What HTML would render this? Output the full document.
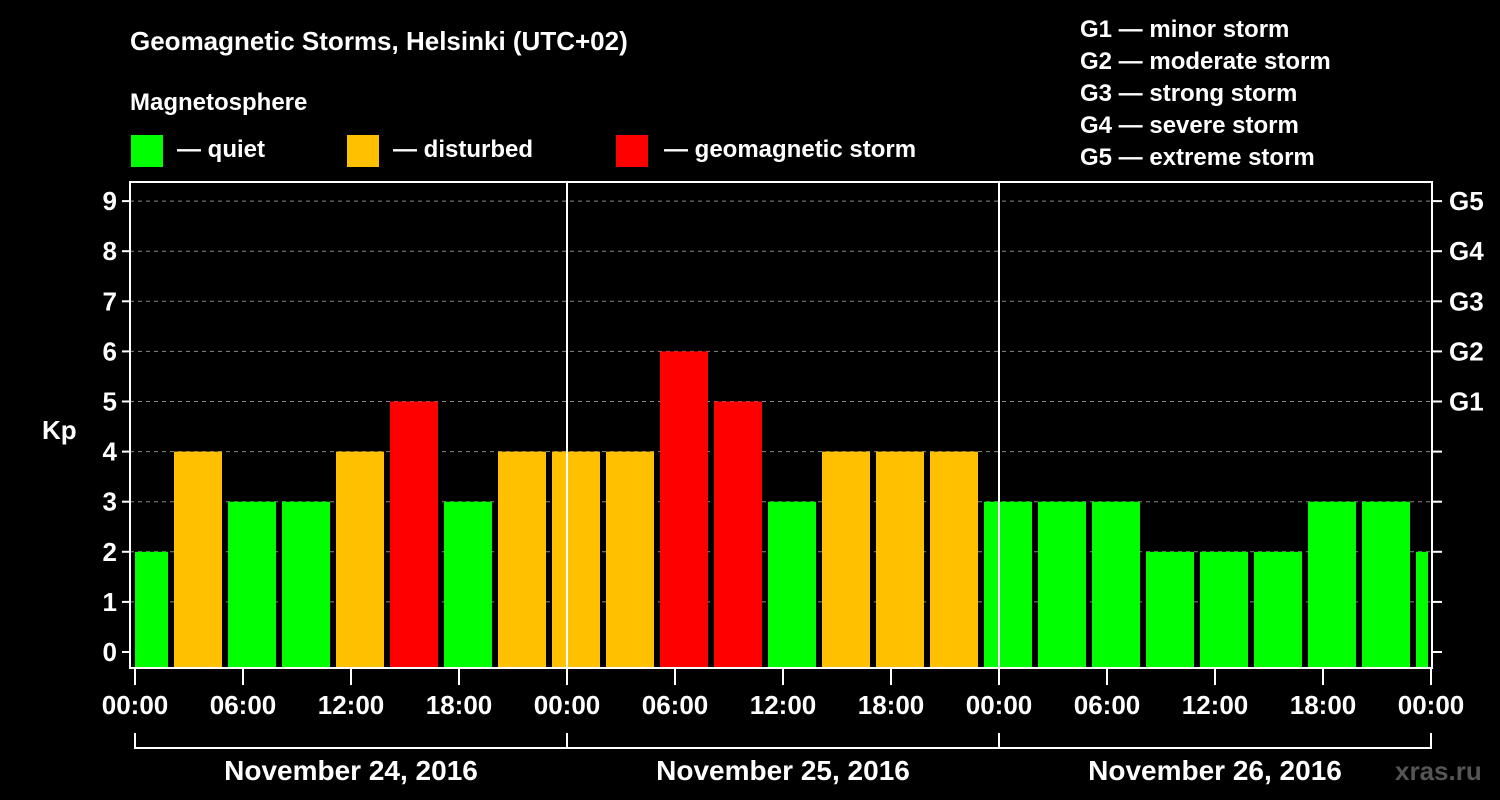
<!DOCTYPE html>
<html><head><meta charset="utf-8"><style>
html,body{margin:0;padding:0;background:#000;}
svg{display:block;font-family:"Liberation Sans",Arial,sans-serif;font-weight:bold;}
</style></head><body>
<svg id="chart" width="1500" height="800" viewBox="0 0 1500 800">
<rect width="1500" height="800" fill="#000"/>
<text x="130" y="50" fill="#fff" font-size="26">Geomagnetic Storms, Helsinki (UTC+02)</text>
<text x="130" y="110" fill="#fff" font-size="24">Magnetosphere</text>
<g><rect x="131" y="135" width="32" height="32" fill="#00ff00"/><text x="177" y="157" fill="#fff" font-size="24">— quiet</text></g>
<g><rect x="347" y="135" width="32" height="32" fill="#ffc000"/><text x="393" y="157" fill="#fff" font-size="24">— disturbed</text></g>
<g><rect x="616" y="135" width="32" height="32" fill="#ff0000"/><text x="664" y="157" fill="#fff" font-size="24">— geomagnetic storm</text></g>
<g fill="#fff" font-size="24">
<text x="1080" y="37">G1 — minor storm</text>
<text x="1080" y="69">G2 — moderate storm</text>
<text x="1080" y="101">G3 — strong storm</text>
<text x="1080" y="133">G4 — severe storm</text>
<text x="1080" y="165">G5 — extreme storm</text>
</g>
<text x="42" y="439" fill="#fff" font-size="26">Kp</text>
<text x="1395" y="780" fill="#555" font-size="26">xras.ru</text>
<g id="grid"></g><g id="bars"></g><g id="axes"></g>
</svg>
<script>
const kpValues=[2,4,3,3,4,5,3,4,4,4,6,5,3,4,4,4,3,3,3,2,2,2,3,3,2];
const yTicks=[0,1,2,3,4,5,6,7,8,9];
const gLabels=["G1","G2","G3","G4","G5"];
const xTickLabels=["00:00","06:00","12:00","18:00","00:00","06:00","12:00","18:00","00:00","06:00","12:00","18:00","00:00"];
const dayLabels=["November 24, 2016","November 25, 2016","November 26, 2016"];
const firstBarHour=-1; // local hour of first 3-hour interval start
const NS="http://www.w3.org/2000/svg";
const X0=135,PXH=18,Y0=652,PXU=50.1,TOP=182,BOT=668,LEFT=130,RIGHT=1432;
const xs=h=>X0+h*PXH, ys=v=>Y0-v*PXU;
function mk(t,a,p){const e=document.createElementNS(NS,t);for(const k in a)e.setAttribute(k,a[k]);p.appendChild(e);return e;}
const grid=document.getElementById('grid'),bars=document.getElementById('bars'),axes=document.getElementById('axes');
yTicks.forEach(v=>{
 if(v>0){const l=mk('line',{x1:LEFT,x2:RIGHT,y1:ys(v),y2:ys(v),stroke:'#888','stroke-width':1,'stroke-dasharray':'4,4'},grid);
 
 }
 const t=mk('line',{x1:122,x2:LEFT,y1:ys(v),y2:ys(v),stroke:'#fff','stroke-width':2},axes);
 
 
 const t2=mk('line',{x1:RIGHT,x2:1442,y1:ys(v),y2:ys(v),stroke:'#fff','stroke-width':2},axes);
 
 
 const lb=mk('text',{x:117,y:ys(v)+9,fill:'#fff','font-size':26,'text-anchor':'end'},axes);lb.textContent=v;
 
 
});
gLabels.forEach((g,i)=>{const lb=mk('text',{x:1449,y:ys(5+i)+9,fill:'#fff','font-size':26},axes);lb.textContent=g;
 
 });
kpValues.forEach((v,i)=>{
 const h0=firstBarHour+i*3;
 let x1=Math.max(xs(h0)+3,X0),x2=Math.min(xs(h0+3)-3,RIGHT-4);
 const c=v>=5?'#ff0000':(v>=4?'#ffc000':'#00ff00');
 const r=mk('rect',{x:x1,y:ys(v),width:x2-x1,height:BOT-ys(v),fill:c},bars);
 
 
});
[1,2].forEach(d=>{const l=mk('line',{x1:xs(d*24),x2:xs(d*24),y1:TOP,y2:BOT,stroke:'#fff','stroke-width':2},axes);
 
 });
const fr=mk('rect',{x:LEFT,y:TOP,width:RIGHT-LEFT,height:BOT-TOP,fill:'none',stroke:'#fff','stroke-width':2},axes);


xTickLabels.forEach((s,i)=>{const x=xs(i*6);
 const t=mk('line',{x1:x,x2:x,y1:BOT,y2:685,stroke:'#fff','stroke-width':2},axes);
 
 
 const lb=mk('text',{x:x,y:714,fill:'#fff','font-size':26,'text-anchor':'middle'},axes);lb.textContent=s;
 
 });
const br=mk('line',{x1:xs(0),x2:xs(72),y1:748,y2:748,stroke:'#fff','stroke-width':2},axes);


[0,1,2,3].forEach(d=>{const l=mk('line',{x1:xs(d*24),x2:xs(d*24),y1:733,y2:749,stroke:'#fff','stroke-width':2},axes);
 
 });
dayLabels.forEach((s,d)=>{const lb=mk('text',{x:xs(d*24+12),y:780,fill:'#fff','font-size':28,'text-anchor':'middle'},axes);lb.textContent=s;
 
 });
</script>
</body></html>
